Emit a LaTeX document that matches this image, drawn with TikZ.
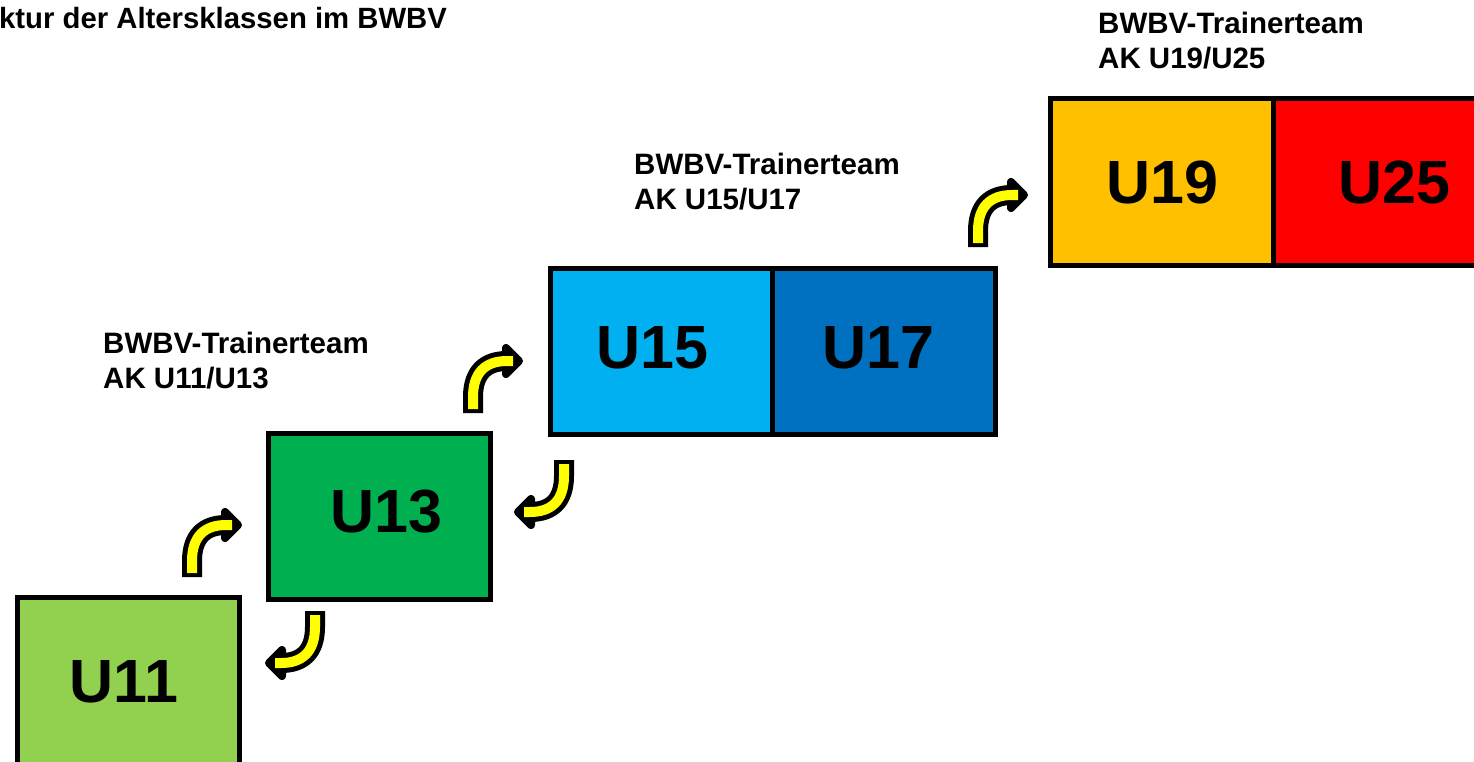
\documentclass[tikz,border=0pt]{standalone}
\usepackage{fontspec}
\setmainfont{Liberation Sans}
\definecolor{cU11}{HTML}{92D050}
\definecolor{cU13}{HTML}{00B050}
\definecolor{cU15}{HTML}{00B0F0}
\definecolor{cU17}{HTML}{0070C0}
\definecolor{cU19}{HTML}{FFC000}
\definecolor{cU25}{HTML}{FF0000}
\definecolor{arrowyellow}{HTML}{FFFF00}
\tikzset{
  agebox/.style={draw=black, line width=5pt, rectangle, inner sep=0pt, outer sep=0pt},
  bigtext/.style={font=\fontsize{61}{61}\selectfont\bfseries, inner sep=0pt},
  teamtext/.style={font=\fontsize{29.5}{35}\selectfont\bfseries, inner sep=0pt, anchor=north west, align=left},
  uparr/.pic={
    \draw[line width=20pt, black] (0,4) -- (0,-12) .. controls (0,-36) and (12,-48) .. (34,-48);
    \filldraw[fill=arrowyellow, draw=black, line width=8pt, line join=round] (33,-61) -- (46,-48) -- (33,-35) -- cycle;
    \draw[line width=10pt, arrowyellow] (0,0) -- (0,-12) .. controls (0,-36) and (12,-48) .. (34,-48) -- (40,-48);
  }
}
\begin{document}
\begin{tikzpicture}[x=1pt, y=-1pt]
\useasboundingbox (0,0) rectangle (1474,762);
\clip (0,0) rectangle (1474,762);
% title
\node[font=\fontsize{29.3}{35}\selectfont\bfseries, inner sep=0pt, anchor=north west] (title) at (-1,7.5) {ktur der Altersklassen im BWBV};
% boxes
\node[agebox, fill=cU11, minimum width=222pt, minimum height=180pt, anchor=north west] (b11) at (17.5,597.5) {};
\node[agebox, fill=cU13, minimum width=222pt, minimum height=166pt, anchor=north west] (b13) at (268,433.5) {};
\node[agebox, fill=cU15, minimum width=222pt, minimum height=166pt, anchor=north west] (b15) at (550,268.5) {};
\node[agebox, fill=cU17, minimum width=223pt, minimum height=166pt, anchor=north west] (b17) at (772,268.5) {};
\node[agebox, fill=cU19, minimum width=223pt, minimum height=166pt, anchor=north west] (b19) at (1050,99) {};
\node[agebox, fill=cU25, minimum width=230pt, minimum height=166pt, anchor=north west] (b25) at (1273,99) {};
% box texts
\node[bigtext] (t11) at (124,682) {U11};
\node[bigtext] (t13) at (386,512) {U13};
\node[bigtext] (t15) at (652,348) {U15};
\node[bigtext] (t17) at (878,348) {U17};
\node[bigtext] (t19) at (1162,183) {U19};
\node[bigtext] (t25) at (1394,183) {U25};
% team labels
\node[teamtext] (team1) at (103,331.5) {BWBV-Trainerteam\\AK U11/U13};
\node[teamtext] (team2) at (634,152.5) {BWBV-Trainerteam\\AK U15/U17};
\node[teamtext] (team3) at (1098,11.5) {BWBV-Trainerteam\\AK U19/U25};
% arrows
\pic at (192,573) {uparr};
\pic[rotate=180] at (315,615) {uparr};
\pic at (473,409) {uparr};
\pic[rotate=180] at (564,464) {uparr};
\pic at (978,243) {uparr};
\end{tikzpicture}
\end{document}
